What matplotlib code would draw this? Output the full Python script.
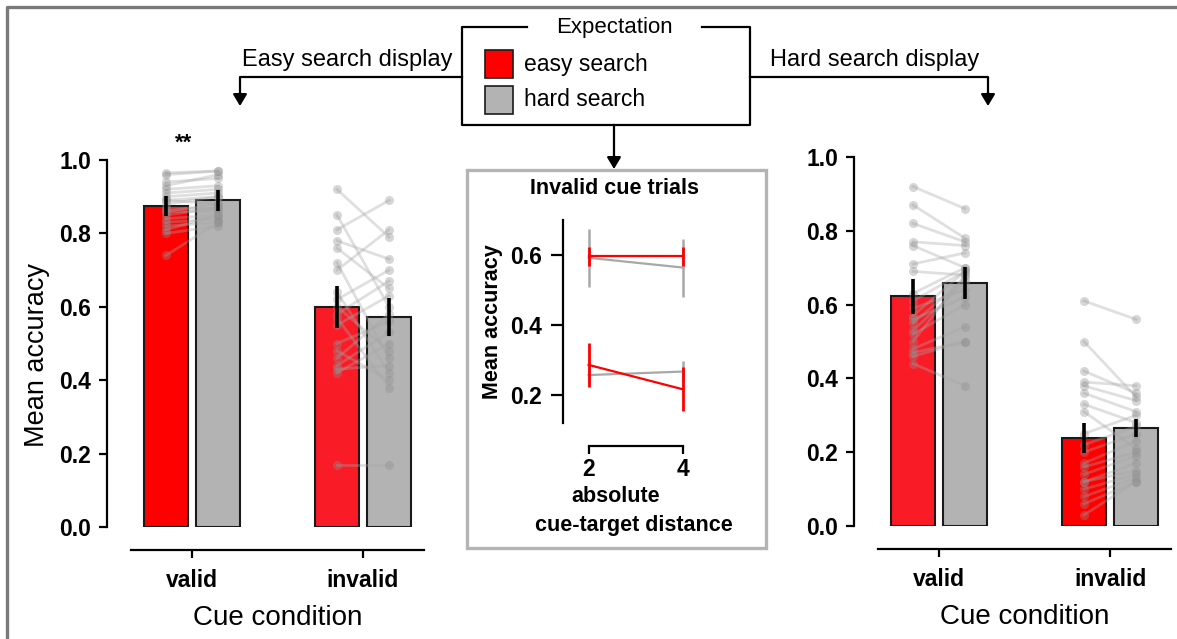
import matplotlib
matplotlib.use("Agg")
import matplotlib.pyplot as plt
import numpy as np
from matplotlib.patches import Rectangle, FancyArrowPatch
from matplotlib.lines import Line2D

plt.rcParams['font.family'] = ['Liberation Sans', 'DejaVu Sans']

W, H = 1177, 639

# ---------------------------------------------------------------- data
conditions = ["valid", "invalid"]
expectations = ["easy search", "hard search"]

# Easy search display: group means and error half-widths (valid, invalid)
easy_disp_mean_easy = [0.875, 0.600]
easy_disp_mean_hard = [0.890, 0.572]
easy_disp_err_easy = [0.028, 0.058]
easy_disp_err_hard = [0.028, 0.052]

# Hard search display
hard_disp_mean_easy = [0.622, 0.238]
hard_disp_mean_hard = [0.658, 0.265]
hard_disp_err_easy = [0.047, 0.040]
hard_disp_err_hard = [0.043, 0.025]

# Per-subject accuracies (paired easy / hard expectation)
easy_valid_easy = [0.965, 0.96, 0.94, 0.93, 0.92, 0.91, 0.90, 0.89, 0.89, 0.88,
                   0.87, 0.86, 0.86, 0.85, 0.84, 0.83, 0.82, 0.81, 0.80, 0.74]
easy_valid_hard = [0.97, 0.97, 0.95, 0.96, 0.93, 0.92, 0.91, 0.90, 0.88, 0.90,
                   0.87, 0.88, 0.86, 0.87, 0.85, 0.84, 0.83, 0.85, 0.82, 0.83]
easy_invalid_easy = [0.92, 0.85, 0.81, 0.78, 0.76, 0.72, 0.70, 0.64, 0.62, 0.60,
                     0.58, 0.57, 0.55, 0.50, 0.48, 0.46, 0.44, 0.43, 0.42, 0.17]
easy_invalid_hard = [0.79, 0.60, 0.89, 0.73, 0.65, 0.46, 0.81, 0.42, 0.70, 0.48,
                     0.67, 0.38, 0.63, 0.56, 0.40, 0.58, 0.53, 0.44, 0.50, 0.17]
hard_valid_easy = [0.92, 0.87, 0.82, 0.77, 0.76, 0.71, 0.69, 0.63, 0.61, 0.59,
                   0.57, 0.56, 0.55, 0.53, 0.52, 0.50, 0.48, 0.47, 0.46, 0.44]
hard_valid_hard = [0.86, 0.78, 0.77, 0.76, 0.70, 0.74, 0.68, 0.70, 0.69, 0.64,
                   0.69, 0.62, 0.67, 0.66, 0.60, 0.68, 0.54, 0.50, 0.50, 0.38]
hard_invalid_easy = [0.61, 0.50, 0.42, 0.39, 0.38, 0.36, 0.33, 0.31, 0.25, 0.22,
                     0.20, 0.17, 0.16, 0.14, 0.12, 0.12, 0.10, 0.08, 0.06, 0.03]
hard_invalid_hard = [0.56, 0.35, 0.36, 0.38, 0.34, 0.31, 0.28, 0.21, 0.30, 0.27,
                     0.25, 0.23, 0.20, 0.19, 0.17, 0.15, 0.14, 0.13, 0.12, 0.12]

# Invalid cue trials by absolute cue-target distance
distances = [2, 4]
inv_easydisp_easy = [0.597, 0.597]
inv_easydisp_easy_err = [0.027, 0.027]
inv_easydisp_hard = [0.592, 0.564]
inv_easydisp_hard_err = [0.083, 0.083]
inv_harddisp_easy = [0.286, 0.216]
inv_harddisp_easy_err = [0.064, 0.063]
inv_harddisp_hard = [0.257, 0.267]
inv_harddisp_hard_err = [0.026, 0.030]

RED = "#ff0000"
GREY = "#b3b3b3"
EDGE = "#1a1a1a"
TICK_FONT = dict(size=16.5, weight="bold")
INSET_TICK_FONT = dict(size=16.5, weight="bold")


def P(x, y):
    """Pixel position (from top-left) to figure fraction."""
    return (x / W, 1 - y / H)


fig = plt.figure(figsize=(W / 100, H / 100), dpi=100)


def draw_panel(ax, m_easy, m_hard, e_easy, e_hard, subj_easy, subj_hard,
               red_shades):
    # spine layout first: moving a spine resets its ticks
    for s in ("top", "right"):
        ax.spines[s].set_visible(False)
    ax.spines["left"].set_linewidth(1.6)
    ax.spines["bottom"].set_linewidth(1.6)
    ax.spines["bottom"].set_position(("outward", 16.5))

    x = np.arange(len(conditions))
    off, bw = 0.152, 0.255
    ax.bar(x - off, m_easy, bw, color=red_shades, edgecolor=EDGE,
           linewidth=1.5, zorder=1)
    ax.bar(x + off, m_hard, bw, color=GREY, edgecolor=EDGE,
           linewidth=1.5, zorder=1)
    for xi, se, sh in zip(x, subj_easy, subj_hard):
        for a, b in zip(se, sh):
            ax.plot([xi - off, xi + off], [a, b], color="#a6a6a6",
                    alpha=0.35, lw=2, marker="o", ms=6.5, mec="none",
                    mfc="#8c8c8c", zorder=2)
    ax.errorbar(x - off, m_easy, yerr=e_easy, fmt="none", ecolor="black",
                elinewidth=2.6, capsize=0, zorder=3)
    ax.errorbar(x + off, m_hard, yerr=e_hard, fmt="none", ecolor="black",
                elinewidth=2.6, capsize=0, zorder=3)

    ax.set_xlim(-0.5, 1.5)
    ax.set_ylim(0, 1)
    yt = [0, 0.2, 0.4, 0.6, 0.8, 1.0]
    ax.set_yticks(yt)
    ax.set_yticklabels([f"{v:.1f}" for v in yt], fontdict=TICK_FONT)
    ax.set_xticks(x)
    ax.set_xticklabels(conditions, fontdict=TICK_FONT)
    ax.spines["left"].set_bounds(0, 1)
    ax.spines["bottom"].set_bounds(-0.357, 1.357)
    ax.tick_params(axis="both", length=6, width=1.6)
    ax.tick_params(axis="y", pad=5)
    ax.tick_params(axis="x", pad=8)
    ax.set_xlabel("Cue condition", fontsize=20, labelpad=9)
    ax.patch.set_alpha(0)


ax_l = fig.add_axes([*P(106.5, 527), 342 / W, 367 / H])
draw_panel(ax_l, easy_disp_mean_easy, easy_disp_mean_hard,
           easy_disp_err_easy, easy_disp_err_hard,
           [easy_valid_easy, easy_invalid_easy],
           [easy_valid_hard, easy_invalid_hard],
           ["#ff0000", "#f91c26"])
ax_l.set_ylabel("Mean accuracy", fontsize=19.5)
ax_l.yaxis.set_label_coords(-0.165, 0.47)
ax_l.text(-0.05, 1.045, "**", ha="center", va="center", fontsize=16,
          fontweight="bold")

ax_r = fig.add_axes([*P(853.5, 526), 342 / W, 369 / H])
draw_panel(ax_r, hard_disp_mean_easy, hard_disp_mean_hard,
           hard_disp_err_easy, hard_disp_err_hard,
           [hard_valid_easy, hard_invalid_easy],
           [hard_valid_hard, hard_invalid_hard],
           ["#f91c26", "#ff0000"])

# ---------------------------------------------------------------- inset
box = Rectangle(P(467, 548), (766 - 467) / W, (548 - 170) / H,
                transform=fig.transFigure, fill=False, edgecolor="#b4b4b4",
                linewidth=2.4)
fig.add_artist(box)

ax_i = fig.add_axes([*P(563, 423), 144 / W, 203 / H])
for s in ("top", "right"):
    ax_i.spines[s].set_visible(False)
ax_i.spines["left"].set_linewidth(1.6)
ax_i.spines["bottom"].set_linewidth(1.6)
ax_i.spines["bottom"].set_position(("outward", 16.5))

ax_i.errorbar(distances, inv_easydisp_hard, yerr=inv_easydisp_hard_err,
              color="#a8a8a8", lw=1.6, elinewidth=1.8, capsize=0, zorder=1)
ax_i.errorbar(distances, inv_harddisp_hard, yerr=inv_harddisp_hard_err,
              color="#a8a8a8", lw=1.6, elinewidth=1.8, capsize=0, zorder=1)
ax_i.errorbar(distances, inv_easydisp_easy, yerr=inv_easydisp_easy_err,
              color=RED, lw=1.6, elinewidth=2.0, capsize=0, zorder=2)
ax_i.errorbar(distances, inv_harddisp_easy, yerr=inv_harddisp_easy_err,
              color=RED, lw=1.6, elinewidth=2.0, capsize=0, zorder=2)
ax_i.set_xlim(1.46, 4.5)
ax_i.set_ylim(0.12, 0.70)
ax_i.set_yticks([0.2, 0.4, 0.6])
ax_i.set_yticklabels(["0.2", "0.4", "0.6"], fontdict=INSET_TICK_FONT)
ax_i.set_xticks(distances)
ax_i.set_xticklabels([str(d) for d in distances], fontdict=INSET_TICK_FONT)
ax_i.spines["bottom"].set_bounds(2, 4)
ax_i.tick_params(axis="x", length=6, width=1.6, pad=3)
ax_i.tick_params(axis="y", length=9, width=1.6, pad=6)
ax_i.set_ylabel("Mean accuracy", fontsize=15.5, fontweight="bold",
                labelpad=5)
ax_i.patch.set_alpha(0)
# two-line x label, second line set slightly to the right
fig.text(*P(616, 496), "absolute", ha="center", va="center",
         fontsize=15.5, fontweight="bold")
fig.text(*P(634, 526), "cue-target distance", ha="center", va="center",
         fontsize=15.5, fontweight="bold")
fig.text(*P(614, 188), "Invalid cue trials", ha="center", va="center",
         fontsize=15.5, fontweight="bold")

# ---------------------------------------------------------------- legend box
L, R, T, B = 462, 750, 27, 125
kw = dict(color="black", lw=1.6, transform=fig.transFigure)
outline = [(527, T), (L, T), (L, B), (R, B), (R, T), (702, T)]
pts = [P(*p) for p in outline]
fig.add_artist(Line2D([p[0] for p in pts], [p[1] for p in pts], **kw))
fig.text(*P(614, T), "Expectation", ha="center", va="center", fontsize=16)

for (y0, col, label) in [(50, RED, expectations[0]),
                         (86, GREY, expectations[1])]:
    fig.add_artist(Rectangle(P(485, y0 + 28), 28 / W, 28 / H,
                             transform=fig.transFigure, facecolor=col,
                             edgecolor=EDGE, linewidth=1.2))
    fig.text(*P(524, y0 + 14), label, ha="left", va="center", fontsize=16.5)


def bracket(points, tip):
    pts = [P(*p) for p in points]
    fig.add_artist(Line2D([p[0] for p in pts], [p[1] for p in pts], **kw))
    arr = FancyArrowPatch(pts[-1], P(*tip), transform=fig.transFigure,
                          arrowstyle="-|>,head_length=0.5,head_width=0.3",
                          mutation_scale=14, color="black", lw=1.6,
                          shrinkA=0, shrinkB=0)
    fig.add_artist(arr)


bracket([(L, 77), (240, 77), (240, 92)], (240, 106))
bracket([(R, 77), (988, 77), (988, 92)], (988, 106))
bracket([(614, B), (614, 155)], (614, 169))

fig.text(*P(347, 60), "Easy search display", ha="center", va="center",
         fontsize=17)
fig.text(*P(875, 60), "Hard search display", ha="center", va="center",
         fontsize=17)

# outer frame
fr = [P(7, 639), P(7, 7), P(1177, 7)]
fig.add_artist(Line2D([p[0] for p in fr], [p[1] for p in fr],
                      color="#7a7a7a", lw=2.4, transform=fig.transFigure))

fig.savefig("out.png", dpi=100)
